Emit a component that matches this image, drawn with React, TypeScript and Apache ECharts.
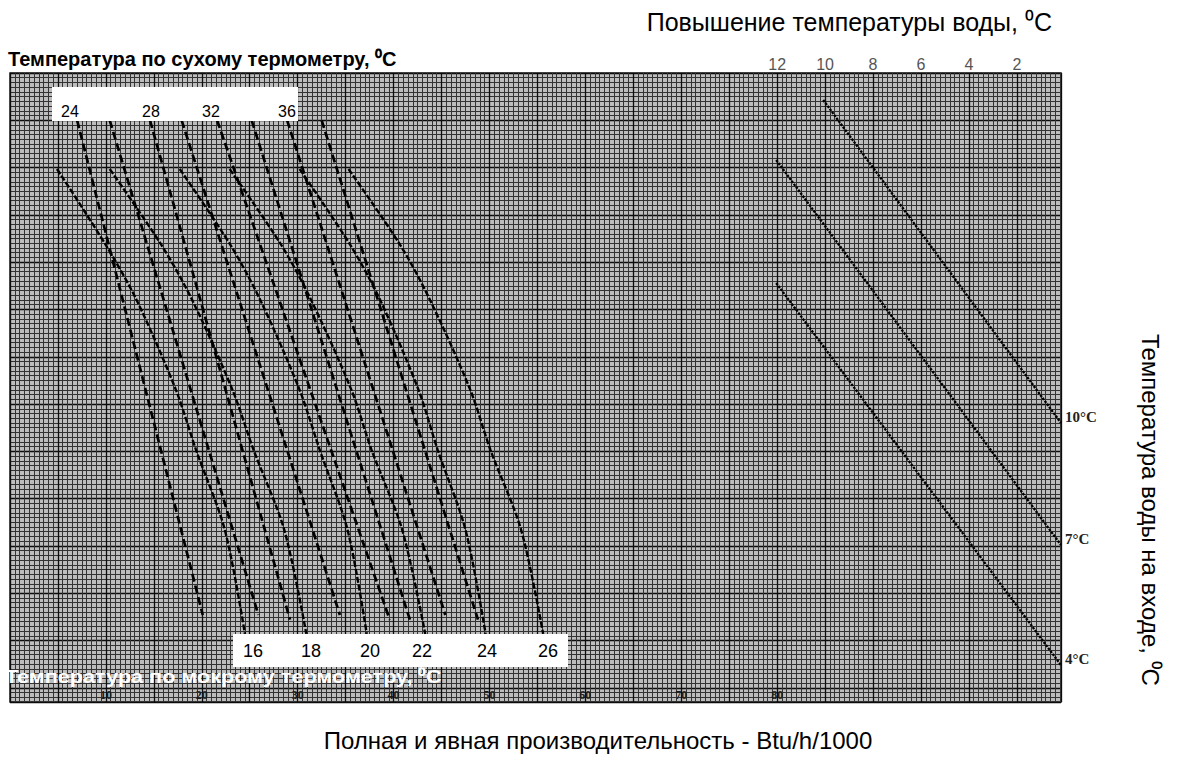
import React, { useEffect, useRef } from "react";
import * as echarts from "echarts";

// X axis: capacity Btu/h/1000 ; Y axis: chart-paper rows (0 = top edge, inverse)
const capacityTicks = [10, 20, 30, 40, 50, 60, 70, 80];
const waterRiseTicks = [80, 85, 90, 95, 100, 105];
const waterRiseLabels = ["12", "10", "8", "6", "4", "2"];

const wetBulbLabels = ["16", "18", "20", "22", "24", "26"];
const wetBulbY = [2.03, 3.64, 4.8, 6.7, 7.97, 9.66, 11.86];
const wetBulbX16 = [4.9, 10.0, 13.2, 17.3, 19.4, 22.4, 24.5];
const wetBulbX18 = [10.4, 15.8, 19.0, 23.2, 25.4, 28.6, 30.9];
const wetBulbX20 = [17.7, 23.0, 26.1, 30.2, 32.3, 35.2, 37.2];
const wetBulbX22 = [22.9, 28.3, 31.4, 35.6, 37.7, 40.9, 43.3];
const wetBulbX24 = [30.2, 35.5, 38.6, 42.6, 44.6, 47.5, 49.6];
const wetBulbX26 = [35.3, 40.7, 43.8, 48.0, 50.1, 53.3, 55.6];
const wetBulbX = [wetBulbX16, wetBulbX18, wetBulbX20, wetBulbX22, wetBulbX24, wetBulbX26];

const dryBulbLabels = ["24", "26", "28", "30", "32", "34", "36", "38"];
const dryBulbBoxLabels = ["24", "28", "32", "36"];
const dryBulbTopX = [7.0, 10.4, 14.6, 17.9, 21.6, 25.2, 28.9, 32.5];
const dryBulbTopY = [1.0, 1.0, 1.0, 1.0, 1.0, 1.0, 1.0, 1.0];
const dryBulbBottomX = [20.1, 25.9, 29.2, 34.4, 39.6, 41.7, 45.4, 48.8];
const dryBulbBottomY = [11.46, 11.46, 11.56, 11.46, 11.56, 11.56, 11.46, 11.56];

const waterLabels = ["10°C", "7°C", "4°C"];
const waterStartX = [84.8, 79.9, 79.9];
const waterStartY = [0.57, 1.84, 4.44];
const waterEndX = [109.6, 109.6, 109.6];
const waterEndY = [7.4, 9.98, 12.52];

const SANS = "Liberation Sans, Arial, sans-serif";
const SERIF = "Liberation Serif, DejaVu Serif, serif";

export default function App() {
  const ref = useRef<HTMLDivElement>(null);
  useEffect(() => {
    if (!ref.current) return;
    const chart = echarts.init(ref.current, null, { renderer: "svg" });

    const series: any[] = [];
    wetBulbX.forEach((xs, i) => {
      series.push({
        name: "WB " + wetBulbLabels[i],
        type: "line",
        smooth: 0.3,
        symbol: "none",
        data: xs.map((x, j) => [x, wetBulbY[j]]),
        lineStyle: { color: "#000", width: 2.4, type: [6, 2] },
        z: 5,
      });
    });
    dryBulbLabels.forEach((lab, i) => {
      series.push({
        name: "DB " + lab,
        type: "line",
        symbol: "none",
        data: [
          [dryBulbTopX[i], dryBulbTopY[i]],
          [dryBulbBottomX[i], dryBulbBottomY[i]],
        ],
        lineStyle: { color: "#000", width: 2.7, type: [8, 4] },
        z: 5,
      });
    });
    waterLabels.forEach((lab, i) => {
      series.push({
        name: lab,
        type: "line",
        symbol: "none",
        data: [
          [waterStartX[i], waterStartY[i]],
          [waterEndX[i], waterEndY[i]],
        ],
        lineStyle: { color: "#000", width: 2.3, type: [2.5, 1.2] },
        endLabel: {
          show: true,
          formatter: lab,
          color: "#222",
          fontFamily: SERIF,
          fontWeight: "bold",
          fontSize: 15,
          distance: 4,
          offset: [0, -6],
        },
        z: 5,
      });
    });
    series.push({ type: "line", xAxisIndex: 1, data: [], symbol: "none" });

    const option: any = {
      animation: false,
      grid: {
        left: 10,
        top: 73,
        width: 1051,
        height: 629,
        show: true,
        backgroundColor: "#bdbdbd",
        borderColor: "#1a1a1a",
        borderWidth: 1.5,
      },
      xAxis: [
        {
          type: "value",
          min: 0,
          max: 109.6,
          interval: 5,
          position: "bottom",
          axisLine: { show: false },
          axisTick: { show: false },
          axisLabel: {
            inside: true,
            margin: 1,
            color: "#1a1a1a",
            fontFamily: SERIF,
            fontWeight: "bold",
            fontSize: 12,
            formatter: (v: number) => (capacityTicks.indexOf(v) >= 0 ? String(v) : ""),
          },
          splitLine: { show: true, lineStyle: { color: "#0d0d0d", width: 1.3 } },
          minorTick: { show: false, splitNumber: 10 },
          minorSplitLine: { show: true, lineStyle: { color: "#333", width: 1 } },
        },
        {
          type: "value",
          min: 0,
          max: 109.6,
          interval: 5,
          position: "top",
          axisLine: { show: false },
          axisTick: { show: false },
          splitLine: { show: false },
          axisLabel: {
            margin: 1,
            color: "#555",
            fontFamily: SANS,
            fontSize: 16,
            formatter: (v: number) => {
              const k = waterRiseTicks.indexOf(v);
              return k >= 0 ? waterRiseLabels[k] : "";
            },
          },
        },
      ],
      yAxis: {
        type: "value",
        inverse: true,
        min: 0,
        max: 13.3,
        interval: 1,
        axisLine: { show: false },
        axisTick: { show: false },
        axisLabel: { show: false },
        splitLine: { show: true, lineStyle: { color: "#0d0d0d", width: 1.3 } },
        minorTick: { show: false, splitNumber: 10 },
        minorSplitLine: { show: true, lineStyle: { color: "#333", width: 1 } },
      },
      graphic: [
        { type: "rect", shape: { x: 52, y: 87, width: 246, height: 34 }, style: { fill: "#fff" }, z: 10 },
        { type: "rect", shape: { x: 233, y: 634, width: 335, height: 33 }, style: { fill: "#fff" }, z: 10 },
        ...dryBulbBoxLabels.map((t, i) => ({
          type: "text",
          x: [70, 151, 211, 287][i],
          y: 111,
          z: 11,
          style: { text: t, fontSize: 16, fontFamily: SANS, fill: "#000", align: "center", verticalAlign: "middle" },
        })),
        ...wetBulbLabels.map((t, i) => ({
          type: "text",
          x: [253, 311, 370, 422, 487, 548][i],
          y: 651,
          z: 11,
          style: { text: t, fontSize: 18, fontFamily: SANS, fill: "#000", align: "center", verticalAlign: "middle" },
        })),
        {
          type: "text",
          x: 5,
          y: 677,
          scaleX: 1.2,
          z: 11,
          style: {
            text: "Температура по мокрому термометру, ⁰C",
            fontSize: 18,
            fontWeight: "bold",
            fontFamily: SANS,
            fill: "#fff",
            align: "left",
            verticalAlign: "middle",
          },
        },
        {
          type: "text",
          x: 8,
          y: 59,
          style: {
            text: "Температура по сухому термометру, ⁰C",
            fontSize: 20,
            fontWeight: "bold",
            fontFamily: SANS,
            fill: "#000",
            align: "left",
            verticalAlign: "middle",
          },
        },
        {
          type: "text",
          x: 1052,
          y: 22,
          style: {
            text: "Повышение температуры воды, ⁰C",
            fontSize: 25,
            fontFamily: SANS,
            fill: "#000",
            align: "right",
            verticalAlign: "middle",
          },
        },
        {
          type: "text",
          x: 598,
          y: 740,
          style: {
            text: "Полная и явная производительность - Btu/h/1000",
            fontSize: 24,
            fontFamily: SANS,
            fill: "#000",
            align: "center",
            verticalAlign: "middle",
          },
        },
        {
          type: "text",
          x: 1150,
          y: 510,
          rotation: -Math.PI / 2,
          style: {
            text: "Температура воды на входе, ⁰C",
            fontSize: 24,
            fontFamily: SANS,
            fill: "#000",
            align: "center",
            verticalAlign: "middle",
          },
        },
      ],
      series,
    };
    chart.setOption(option);
    return () => chart.dispose();
  }, []);
  return <div ref={ref} style={{ position: "absolute", left: 0, top: 0, width: 1191, height: 776 }} />;
}
